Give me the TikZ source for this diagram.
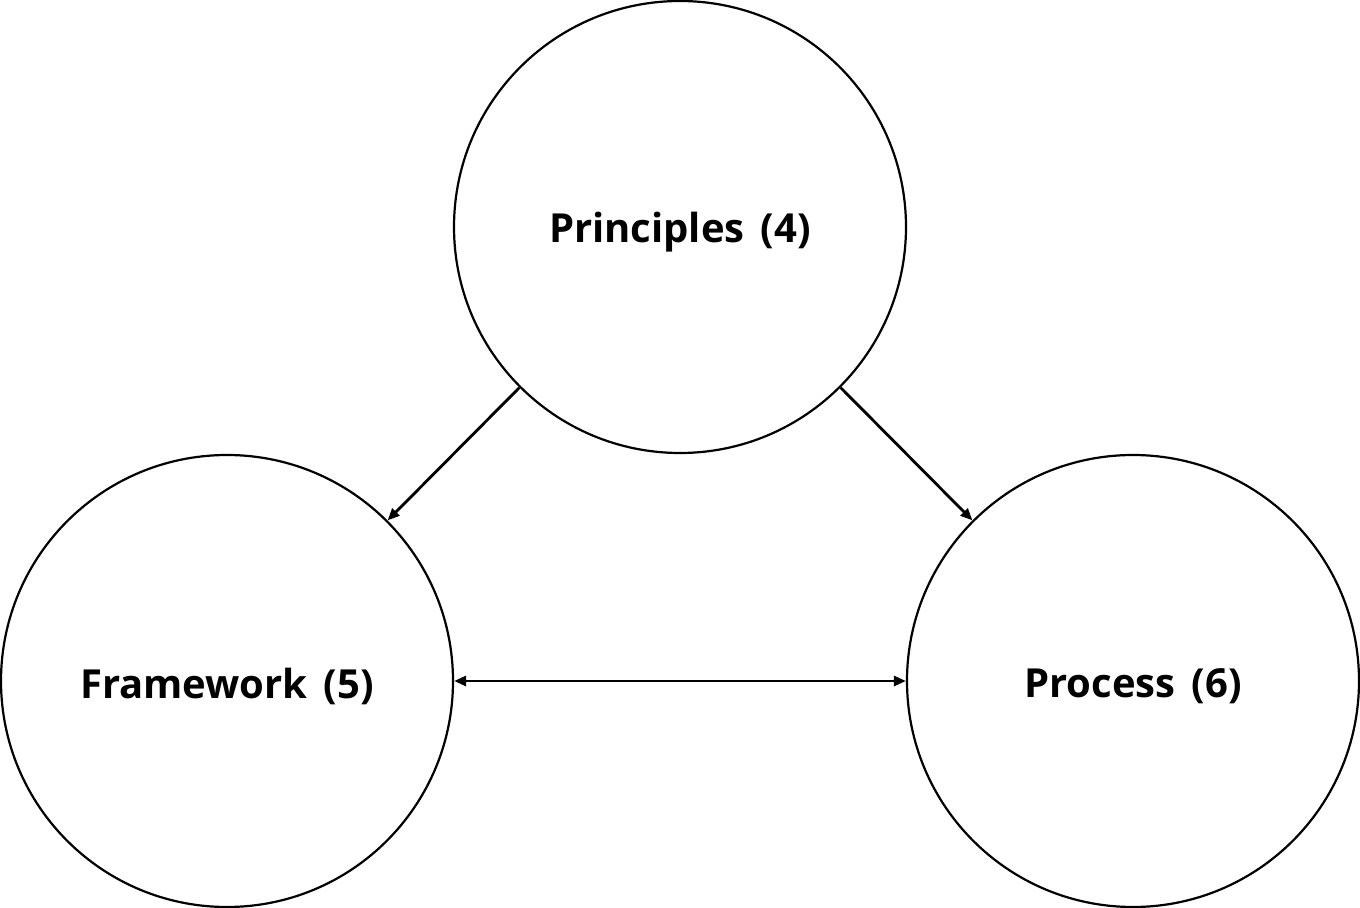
\documentclass[tikz,border=0pt]{standalone}
\usepackage{fontspec}
\setmainfont{Open Sans}[BoldFont={Open Sans Bold}]
\usetikzlibrary{arrows.meta}
\begin{document}
\begin{tikzpicture}[x=0.5pt,y=-0.5pt,
  bubble/.style={circle,draw,line width=1.1pt,minimum size=226pt,inner sep=0pt},
  lbl/.style={inner sep=0pt,font=\fontsize{20}{24}\selectfont\bfseries},
  link/.style={line width=1.4pt,-{Triangle[length=6pt,width=5pt]}},
  biline/.style={line width=1.4pt,{Triangle[length=6pt,width=5pt]}-{Triangle[length=6pt,width=5pt]}}]
\useasboundingbox[fill=white] (0,0) rectangle (1360,908);
\node[bubble] (pr) at (680,227) {};
\node[bubble] (fw) at (227,681) {};
\node[bubble] (ps) at (1133,681) {};
\node[lbl] (prl) at ([yshift=-2.5pt]pr.center) {Principles\hspace{0.15em} (4)};
\node[lbl] (fwl) at ([yshift=-2.5pt]fw.center) {Framework\hspace{0.15em} (5)};
\node[lbl] (psl) at ([yshift=-2.5pt]ps.center) {Process\hspace{0.15em} (6)};
\draw[link] (pr.225) -- (fw.45);
\draw[link] (pr.315) -- (ps.135);
\draw[biline] (fw.east) -- (ps.west);
\end{tikzpicture}
\end{document}
